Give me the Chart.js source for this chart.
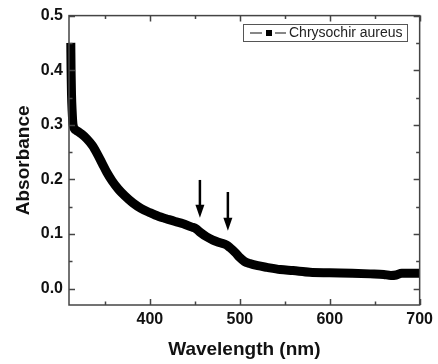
<!DOCTYPE html>
<html lang="en">
<head>
    <meta charset="UTF-8">
    <title>Absorbance</title>
    <script src="https://cdn.jsdelivr.net/npm/chart.js"></script>
    <style>
        body { margin: 0; padding: 0; background-color: #ffffff; }
        canvas { display: block; }
    </style>
</head>
<body>
    <canvas id="absChart" width="438" height="364"></canvas>
    <script>
        // UV-vis spectrum
        const wavelength = [312, 312.3, 312.8, 313.5, 314.5, 318, 324, 330, 336, 342, 347, 352, 358, 365, 372, 381, 390, 400, 410, 418, 428, 437, 446, 451, 456, 463, 470, 478, 485, 489, 495, 500, 505, 511, 520, 530, 545, 559, 578, 600, 625, 645, 660, 668, 674, 680, 690, 700];
        const absorbance = [0.45, 0.40, 0.355, 0.325, 0.300, 0.290, 0.283, 0.274, 0.262, 0.245, 0.229, 0.213, 0.197, 0.182, 0.170, 0.157, 0.147, 0.139, 0.132, 0.128, 0.123, 0.119, 0.113, 0.110, 0.103, 0.095, 0.089, 0.084, 0.080, 0.075, 0.066, 0.057, 0.050, 0.046, 0.042, 0.039, 0.035, 0.033, 0.030, 0.029, 0.028, 0.027, 0.026, 0.024, 0.025, 0.028, 0.028, 0.028];
        const seriesName = 'Chrysochir aureus';

        const xTicks = [350, 400, 450, 500, 550, 600, 650, 700];
        const xLabeled = [400, 500, 600, 700];
        const yTicks = [0, 0.05, 0.1, 0.15, 0.2, 0.25, 0.3, 0.35, 0.4, 0.45, 0.5];
        const yLabeled = [0, 0.1, 0.2, 0.3, 0.4, 0.5];

        // arrows marking the two shoulders: [wavelength, top, bottom]
        const arrows = [[455.6, 0.199, 0.130], [486.7, 0.177, 0.106]];

        const points = wavelength.map((w, i) => ({ x: w, y: absorbance[i] }));

        // frame with inward ticks on all four sides, arrows and legend box
        const decorations = {
            id: 'decorations',
            afterDraw(chart) {
                const ctx = chart.ctx;
                const a = chart.chartArea;
                const xs = chart.scales.x, ys = chart.scales.y;
                ctx.save();
                ctx.strokeStyle = '#444';
                ctx.lineWidth = 1.5;
                ctx.strokeRect(a.left, a.top, a.right - a.left, a.bottom - a.top);
                ctx.beginPath();
                xTicks.forEach(v => {
                    const px = Math.round(xs.getPixelForValue(v)) + 0.5;
                    const len = xLabeled.includes(v) ? 6 : 3.5;
                    ctx.moveTo(px, a.bottom); ctx.lineTo(px, a.bottom - len);
                    ctx.moveTo(px, a.top); ctx.lineTo(px, a.top + len);
                });
                yTicks.forEach(v => {
                    const py = Math.round(ys.getPixelForValue(v)) + 0.5;
                    const len = yLabeled.includes(v) ? 6 : 3.5;
                    ctx.moveTo(a.left, py); ctx.lineTo(a.left + len, py);
                    ctx.moveTo(a.right, py); ctx.lineTo(a.right - len, py);
                });
                ctx.stroke();

                // arrows
                ctx.strokeStyle = '#000';
                ctx.fillStyle = '#000';
                ctx.lineWidth = 2.5;
                arrows.forEach(([w, top, bottom]) => {
                    const px = xs.getPixelForValue(w);
                    const y0 = ys.getPixelForValue(top);
                    const y1 = ys.getPixelForValue(bottom);
                    ctx.beginPath();
                    ctx.moveTo(px, y0); ctx.lineTo(px, y1 - 10);
                    ctx.stroke();
                    ctx.beginPath();
                    ctx.moveTo(px - 4.5, y1 - 13);
                    ctx.lineTo(px + 4.5, y1 - 13);
                    ctx.lineTo(px, y1);
                    ctx.closePath();
                    ctx.fill();
                });

                // legend
                ctx.strokeStyle = '#555';
                ctx.lineWidth = 1;
                ctx.strokeRect(243.5, 24.5, 164, 17);
                ctx.strokeStyle = '#111';
                ctx.lineWidth = 1.2;
                ctx.beginPath();
                ctx.moveTo(250, 33); ctx.lineTo(262, 33);
                ctx.moveTo(275, 33); ctx.lineTo(286, 33);
                ctx.stroke();
                ctx.fillStyle = '#000';
                ctx.fillRect(266, 30, 6, 6);
                ctx.fillStyle = '#222';
                ctx.font = '14px "Liberation Sans", Arial, sans-serif';
                ctx.textBaseline = 'middle';
                ctx.textAlign = 'left';
                ctx.fillText(seriesName, 289, 33.5);
                ctx.restore();
            }
        };

        const tickFont = { family: '"Liberation Sans", Arial, sans-serif', size: 16, weight: 'bold' };
        const titleFont = { family: '"Liberation Sans", Arial, sans-serif', size: 19, weight: 'bold' };

        new Chart(document.getElementById('absChart'), {
            type: 'line',
            data: {
                datasets: [{
                    label: seriesName,
                    data: points,
                    borderColor: '#000000',
                    borderWidth: 9,
                    borderJoinStyle: 'round',
                    pointRadius: 0,
                    cubicInterpolationMode: 'monotone',
                    clip: false
                }]
            },
            options: {
                responsive: false,
                animation: false,
                layout: { padding: { top: 14, right: 18, left: 0, bottom: 0 } },
                plugins: { legend: { display: false }, tooltip: { enabled: false } },
                scales: {
                    x: {
                        type: 'linear',
                        min: 310,
                        max: 700,
                        afterFit: s => { s.height = 59; },
                        afterBuildTicks: s => { s.ticks = xLabeled.map(v => ({ value: v })); },
                        grid: { display: true, drawOnChartArea: false, drawTicks: false },
                        border: { display: false },
                        ticks: { color: '#111', font: tickFont, padding: 5, maxRotation: 0 },
                        title: { display: true, text: 'Wavelength (nm)', color: '#111', font: titleFont, padding: { top: 0, bottom: 3 } }
                    },
                    y: {
                        min: -0.03,
                        max: 0.5,
                        afterFit: s => { s.width = 69; },
                        afterBuildTicks: s => { s.ticks = yLabeled.map(v => ({ value: v })); },
                        grid: { display: true, drawOnChartArea: false, drawTicks: false },
                        border: { display: false },
                        ticks: { color: '#111', font: tickFont, padding: 6, callback: v => v.toFixed(1) },
                        title: { display: true, text: 'Absorbance', color: '#111', font: titleFont, padding: { top: 12, bottom: 0 } }
                    }
                }
            },
            plugins: [decorations]
        });
    </script>
</body>
</html>
